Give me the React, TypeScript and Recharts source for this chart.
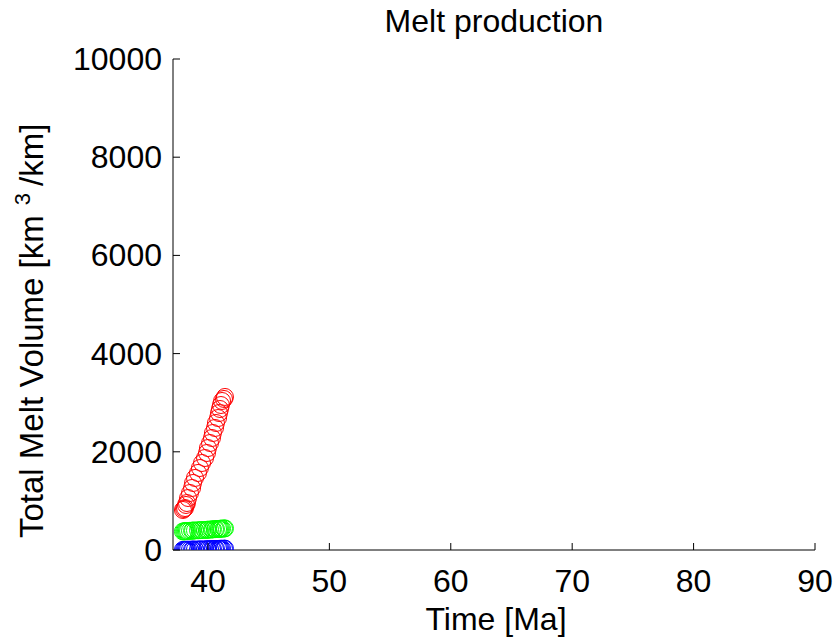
import { ScatterChart, Scatter, XAxis, YAxis } from "recharts";

const timeMa = [
  37.94, 38.03, 38.11, 38.19, 38.27, 38.36, 38.52, 38.69, 38.77, 38.93, 39.18, 39.34, 39.51, 39.76,
  39.92, 40.0, 40.17, 40.33, 40.41, 40.58, 40.66, 40.83, 40.91, 40.99, 41.07, 41.16, 41.32, 41.4,
];
const redVolume = [
  815, 835, 855, 917, 957, 1059, 1161, 1263, 1365, 1467, 1569, 1670, 1772, 1874, 1976, 2077, 2179,
  2281, 2383, 2485, 2587, 2688, 2790, 2872, 2953, 3035, 3076, 3117,
];
const greenVolume = [
  378, 380, 381, 384, 386, 388, 391, 393, 396, 398, 401, 404, 406, 409, 411, 414, 416, 419, 421, 424,
  426, 428, 430, 432, 434, 436, 438, 440,
];
const blueVolume = [
  2, 3, 3, 4, 5, 6, 7, 8, 9, 10, 11, 12, 13, 14, 15, 16, 17, 18, 19, 20, 21, 22, 23, 24, 25, 26, 27, 28,
];
const xTicks = [40, 50, 60, 70, 80, 90];
const yTicks = [0, 2000, 4000, 6000, 8000, 10000];

const FONT = "'Liberation Sans', Arial, Helvetica, sans-serif";

const toPoints = (vals: number[]) => timeMa.map((t, i) => ({ t, v: vals[i] }));

const ring = (color: string) => (props: any) =>
  <circle cx={props.cx} cy={props.cy} r={8.5} fill="none" stroke={color} strokeWidth={1} />;

const XTick = (props: any) => {
  const { x, y, payload } = props;
  return (
    <g>
      <line x1={x} y1={y} x2={x} y2={y - 7} stroke="#000" />
      <text x={x} y={y + 42} textAnchor="middle" fontSize={32} fontFamily={FONT} fill="#000">
        {payload.value}
      </text>
    </g>
  );
};

const YTick = (props: any) => {
  const { x, y, payload } = props;
  return (
    <g>
      <line x1={x} y1={y} x2={x + 7} y2={y} stroke="#000" />
      <text x={x - 11} y={y + 11} textAnchor="end" fontSize={32} fontFamily={FONT} fill="#000">
        {payload.value}
      </text>
    </g>
  );
};

export default function App() {
  return (
    <div style={{ position: "absolute", left: 0, top: 0, width: 836, height: 642, background: "#fff" }}>
      <ScatterChart width={836} height={642} margin={{ top: 59, right: 21, bottom: 0, left: 0 }}>
        <XAxis
          type="number"
          dataKey="t"
          domain={[37.12, 90]}
          ticks={xTicks}
          allowDataOverflow
          height={92}
          tickSize={0}
          tickMargin={0}
          tick={<XTick />}
          axisLine={{ stroke: "#000" }}
          tickLine={false}
        />
        <YAxis
          type="number"
          dataKey="v"
          domain={[0, 10000]}
          ticks={yTicks}
          allowDataOverflow
          width={173}
          tickSize={0}
          tickMargin={0}
          tick={<YTick />}
          axisLine={{ stroke: "#000" }}
          tickLine={false}
        />
        <Scatter data={toPoints(redVolume)} shape={ring("#ff0000")} isAnimationActive={false} />
        <Scatter data={toPoints(greenVolume)} shape={ring("#00ff00")} isAnimationActive={false} />
        <Scatter data={toPoints(blueVolume)} shape={ring("#0000ff")} isAnimationActive={false} />
      </ScatterChart>
      <svg
        width={836}
        height={642}
        style={{ position: "absolute", left: 0, top: 0, pointerEvents: "none" }}
        fontFamily={FONT}
      >
        <text x={494} y={32} textAnchor="middle" fontSize={32}>
          Melt production
        </text>
        <text x={496} y={630} textAnchor="middle" fontSize={32}>
          Time [Ma]
        </text>
        <text transform="translate(43,538) rotate(-90)" textAnchor="start" fontSize={33}>
          Total Melt Volume [km
          <tspan fontSize={22} dx={10} dy={-13}>3</tspan>
          <tspan dx={7} dy={13}>/km]</tspan>
        </text>
      </svg>
    </div>
  );
}
